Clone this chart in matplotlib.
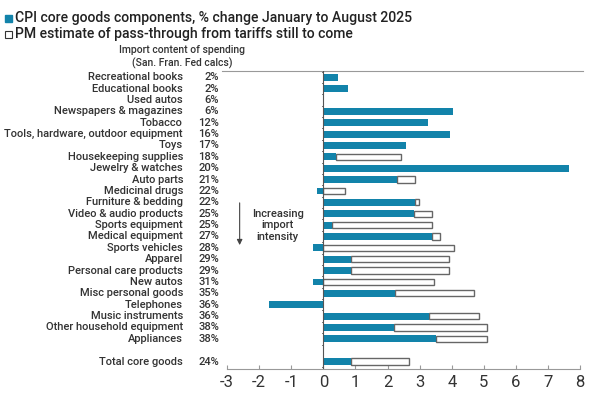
import numpy as np
import matplotlib.pyplot as plt
from matplotlib.transforms import blended_transform_factory

# Categories, import content and values (% change Jan-Aug 2025, PM estimate still to come)
categories = [
    "Recreational books", "Educational books", "Used autos", "Newspapers & magazines",
    "Tobacco", "Tools, hardware, outdoor equipment", "Toys", "Housekeeping supplies",
    "Jewelry & watches", "Auto parts", "Medicinal drugs", "Furniture & bedding",
    "Video & audio products", "Sports equipment", "Medical equipment", "Sports vehicles",
    "Apparel", "Personal care products", "New autos", "Misc personal goods",
    "Telephones", "Music instruments", "Other household equipment", "Appliances",
    "Total core goods",
]
import_share = [
    "2%", "2%", "6%", "6%", "12%", "16%", "17%", "18%", "20%", "21%", "22%", "22%",
    "25%", "25%", "27%", "28%", "29%", "29%", "31%", "35%", "36%", "36%", "38%", "38%",
    "24%",
]
cpi_change = [
    0.47, 0.76, 0.03, 4.04, 3.26, 3.93, 2.58, 0.39, 7.66, 2.30, -0.19, 2.86,
    2.83, 0.26, 3.39, -0.31, 0.87, 0.87, -0.31, 2.24, -1.68, 3.30, 2.21, 3.51,
    0.87,
]
still_to_come = [
    0.0, 0.0, 0.0, 0.0, 0.0, 0.0, 0.0, 2.04, 0.0, 0.54, 0.68, 0.12,
    0.54, 3.11, 0.25, 4.07, 3.03, 3.04, 3.45, 2.45, 0.0, 1.54, 2.89, 1.59,
    1.79,
]

BLUE = "#1283aa"
TEXT = "#333333"

plt.rcParams['font.family'] = ['Roboto', 'DejaVu Sans']
plt.rcParams['axes.unicode_minus'] = False

fig = plt.figure(figsize=(5.92, 3.95), dpi=100)
ax = fig.add_axes([222 / 592, 1 - 369 / 395, (583 - 222) / 592, (369 - 71) / 395])

# rows: 24 components, one blank row, then the total
ypos = np.array(list(range(24)) + [25])
blue = np.array(cpi_change)
extra = np.array(still_to_come)
white_left = np.maximum(blue, 0)

ax.barh(ypos, blue, height=0.6, color=BLUE, zorder=3)
mask = extra > 0
ax.barh(ypos[mask], extra[mask], left=white_left[mask], height=0.55,
        color="white", edgecolor="#666666", linewidth=1.0, zorder=2)

ax.set_xlim(-3.16, 8.09)
ax.set_ylim(25.65, -0.55)

for s in ["left", "right"]:
    ax.spines[s].set_visible(False)
ax.spines["top"].set_color("#999999")
ax.spines["bottom"].set_color("#999999")
ax.spines["bottom"].set_bounds(-3, 8)

ax.set_xticks(range(-3, 9))
ax.tick_params(axis="x", direction="in", length=3, color="#999999",
               labelsize=12, labelcolor=TEXT, pad=4)
ax.set_yticks([])

# zero line with small category ticks
ax.axvline(0, color="#555555", linewidth=0.8, zorder=4)
for y in np.arange(-0.5, 25.6, 1.0):
    if 23.6 < y < 24.6:
        continue
    ax.plot([-0.05, 0], [y, y], color="#555555", linewidth=0.6, zorder=4)

# labels
trans = blended_transform_factory(fig.transFigure, ax.transData)
for y, name, share in zip(ypos, categories, import_share):
    fig.text(183 / 592, y, name, transform=trans, ha="right", va="center",
             fontsize=8, color=TEXT, fontweight="medium")
    fig.text(219 / 592, y, share, transform=trans, ha="right", va="center",
             fontsize=8, color=TEXT, fontweight="medium")

fig.text(182 / 592, 1 - 50 / 395, "Import content of spending", ha="center",
         va="center", fontsize=7.5, color=TEXT, fontweight="medium")
fig.text(182 / 592, 1 - 63 / 395, "(San. Fran. Fed calcs)", ha="center",
         va="center", fontsize=7.5, color=TEXT, fontweight="medium")

# arrow annotation
ax.annotate("", xy=(-2.61, 15.0), xytext=(-2.61, 10.8),
            arrowprops=dict(arrowstyle="-|>", color="#444444", lw=0.8,
                            mutation_scale=8))
ax.text(-1.42, 13.0, "Increasing\nimport\nintensity", ha="center", va="center",
        fontsize=8, color=TEXT, linespacing=1.2, fontweight="medium")

# legend-style header
fig.patches.append(plt.Rectangle((5 / 592, 1 - 22 / 395), 7 / 592, 7 / 395,
                                 transform=fig.transFigure, facecolor=BLUE,
                                 edgecolor=BLUE))
fig.patches.append(plt.Rectangle((5 / 592, 1 - 38 / 395), 7 / 592, 7 / 395,
                                 transform=fig.transFigure, facecolor="white",
                                 edgecolor="#333333", linewidth=0.8))
fig.text(15 / 592, 1 - 18 / 395, "CPI core goods components, % change January to August 2025",
         ha="left", va="center", fontsize=10.1, color="#222222", fontweight="medium")
fig.text(15 / 592, 1 - 34 / 395, "PM estimate of pass-through from tariffs still to come",
         ha="left", va="center", fontsize=10.1, color="#222222", fontweight="medium")

fig.savefig("out.png", dpi=100)
